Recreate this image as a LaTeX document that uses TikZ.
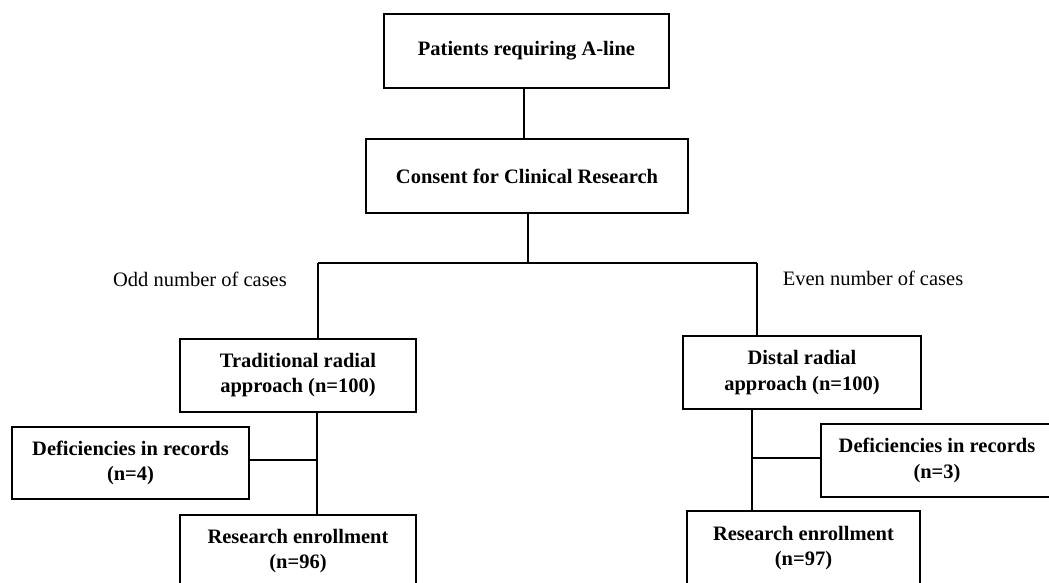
\documentclass[tikz,border=0pt]{standalone}
\usepackage{fontspec}
\setmainfont{Liberation Serif}
\begin{document}
\begin{tikzpicture}[x=1pt,y=-1pt,
  box/.style={draw, line width=2pt, align=center, inner sep=0pt,
    font=\bfseries\fontsize{20.5}{25.5}\selectfont},
  lbl/.style={inner sep=0pt, font=\fontsize{20.5}{25}\selectfont},
  conn/.style={line width=2pt}]
\useasboundingbox (0,0) rectangle (1049,583);
\clip (0,0) rectangle (1049,583);
\fill[white] (0,0) rectangle (1049,583);
\node[box, minimum width=285pt, minimum height=74pt] (p) at (526.5,51) {Patients requiring A-line};
\node[box, minimum width=322pt, minimum height=74pt] (c) at (527,176) {Consent for Clinical Research};
\node[box, minimum width=236pt, minimum height=73pt] (t) at (298,375) {Traditional radial\\approach (n=100)};
\node[box, minimum width=238pt, minimum height=73pt] (d) at (802,372.5) {Distal radial\\approach (n=100)};
\node[box, minimum width=237pt, minimum height=72pt] (f1) at (130.5,463) {Deficiencies in records\\(n=4)};
\node[box, minimum width=232pt, minimum height=73pt] (f2) at (937,460.5) {Deficiencies in records\\(n=3)};
\node[box, minimum width=236pt, minimum height=72pt] (r1) at (298,551) {Research enrollment\\(n=96)};
\node[box, minimum width=233pt, minimum height=74pt] (r2) at (803.5,548) {Research enrollment\\(n=97)};
\node[lbl] (odd) at (200,279) {Odd number of cases};
\node[lbl] (even) at (873,278) {Even number of cases};
\coordinate (i) at (524,100);
\coordinate (j) at (528,263);
\coordinate (jl) at (318,263);
\coordinate (jr) at (757,263);
\coordinate (k1) at (317,460);
\coordinate (k2) at (752,458);
\draw[conn] (p.south -| i) -- (c.north -| i);
\draw[conn] (c.south -| j) -- (j);
\draw[conn] (jl) -- (jr);
\draw[conn] (jl) -- (jl |- t.north);
\draw[conn] (jr) -- (jr |- d.north);
\draw[conn] (k1 |- t.south) -- (k1 |- r1.north);
\draw[conn] (f1.east |- k1) -- (k1);
\draw[conn] (k2 |- d.south) -- (k2 |- r2.north);
\draw[conn] (k2) -- (k2 -| f2.west);
\end{tikzpicture}
\end{document}
